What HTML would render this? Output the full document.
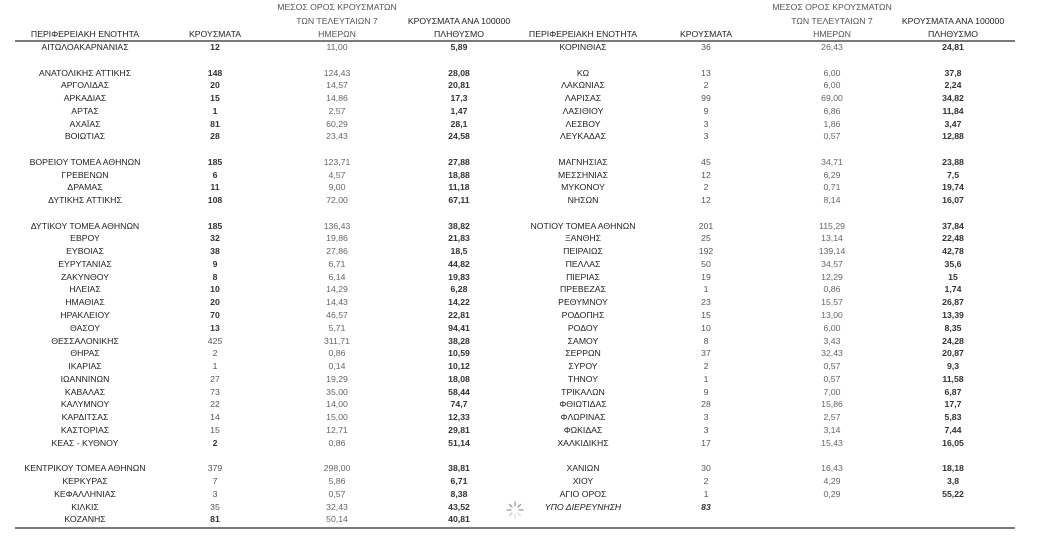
<!DOCTYPE html>
<html><head><meta charset="utf-8"><style>
html,body{margin:0;padding:0;background:#fff;}
body{width:1053px;height:541px;position:relative;overflow:hidden;font-family:"Liberation Sans","DejaVu Sans",sans-serif;font-size:8.7px;color:#222;}
.t{position:absolute;white-space:nowrap;text-align:center;line-height:10px;}
.r{position:absolute;left:0;width:1053px;height:10px;}
.r span{position:absolute;top:0;white-space:nowrap;text-align:center;line-height:10px;}
.a{left:10px;width:150px;}
.b{left:185px;width:60px;font-weight:bold;color:#333;}
.c{left:287px;width:100px;color:#666;}
.d{left:409px;width:100px;font-weight:bold;color:#333;}
.R .a{left:508px;}
.R .b{left:676px;}
.R .c{left:782px;}
.R .d{left:903px;}
.n{font-weight:normal!important;color:#555!important;}
.line{position:absolute;left:15px;width:1000px;height:2px;background:#7a7a7a;}
</style></head><body>
<div class="t" style="left:237px;width:200px;top:2px;color:#555">ΜΕΣΟΣ ΟΡΟΣ ΚΡΟΥΣΜΑΤΩΝ</div>
<div class="t" style="left:237px;width:200px;top:16px;color:#555">ΤΩΝ ΤΕΛΕΥΤΑΙΩΝ 7</div>
<div class="t" style="left:237px;width:200px;top:29px;color:#555">ΗΜΕΡΩΝ</div>
<div class="t" style="left:359px;width:200px;top:16px">ΚΡΟΥΣΜΑΤΑ ΑΝΑ 100000</div>
<div class="t" style="left:359px;width:200px;top:29px">ΠΛΗΘΥΣΜΟ</div>
<div class="t" style="left:0px;width:170px;top:29px">ΠΕΡΙΦΕΡΕΙΑΚΗ ΕΝΟΤΗΤΑ</div>
<div class="t" style="left:175px;width:80px;top:29px">ΚΡΟΥΣΜΑΤΑ</div>
<div class="t" style="left:732px;width:200px;top:2px;color:#555">ΜΕΣΟΣ ΟΡΟΣ ΚΡΟΥΣΜΑΤΩΝ</div>
<div class="t" style="left:732px;width:200px;top:16px;color:#555">ΤΩΝ ΤΕΛΕΥΤΑΙΩΝ 7</div>
<div class="t" style="left:732px;width:200px;top:29px;color:#555">ΗΜΕΡΩΝ</div>
<div class="t" style="left:853px;width:200px;top:16px">ΚΡΟΥΣΜΑΤΑ ΑΝΑ 100000</div>
<div class="t" style="left:853px;width:200px;top:29px">ΠΛΗΘΥΣΜΟ</div>
<div class="t" style="left:498px;width:170px;top:29px">ΠΕΡΙΦΕΡΕΙΑΚΗ ΕΝΟΤΗΤΑ</div>
<div class="t" style="left:666px;width:80px;top:29px">ΚΡΟΥΣΜΑΤΑ</div>
<div class="line" style="top:40px"></div>
<div class="line" style="top:527px"></div>

<div class="r" style="top:42px"><span class="a">ΑΙΤΩΛΟΑΚΑΡΝΑΝΙΑΣ</span><span class="b">12</span><span class="c">11,00</span><span class="d">5,89</span></div>
<div class="r" style="top:68px"><span class="a">ΑΝΑΤΟΛΙΚΗΣ ΑΤΤΙΚΗΣ</span><span class="b">148</span><span class="c">124,43</span><span class="d">28,08</span></div>
<div class="r" style="top:80px"><span class="a">ΑΡΓΟΛΙΔΑΣ</span><span class="b">20</span><span class="c">14,57</span><span class="d">20,81</span></div>
<div class="r" style="top:93px"><span class="a">ΑΡΚΑΔΙΑΣ</span><span class="b">15</span><span class="c">14,86</span><span class="d">17,3</span></div>
<div class="r" style="top:106px"><span class="a">ΑΡΤΑΣ</span><span class="b">1</span><span class="c">2,57</span><span class="d">1,47</span></div>
<div class="r" style="top:119px"><span class="a">ΑΧΑΪΑΣ</span><span class="b">81</span><span class="c">60,29</span><span class="d">28,1</span></div>
<div class="r" style="top:131px"><span class="a">ΒΟΙΩΤΙΑΣ</span><span class="b">28</span><span class="c">23,43</span><span class="d">24,58</span></div>
<div class="r" style="top:157px"><span class="a">ΒΟΡΕΙΟΥ ΤΟΜΕΑ ΑΘΗΝΩΝ</span><span class="b">185</span><span class="c">123,71</span><span class="d">27,88</span></div>
<div class="r" style="top:170px"><span class="a">ΓΡΕΒΕΝΩΝ</span><span class="b">6</span><span class="c">4,57</span><span class="d">18,88</span></div>
<div class="r" style="top:182px"><span class="a">ΔΡΑΜΑΣ</span><span class="b">11</span><span class="c">9,00</span><span class="d">11,18</span></div>
<div class="r" style="top:195px"><span class="a">ΔΥΤΙΚΗΣ ΑΤΤΙΚΗΣ</span><span class="b">108</span><span class="c">72,00</span><span class="d">67,11</span></div>
<div class="r" style="top:221px"><span class="a">ΔΥΤΙΚΟΥ ΤΟΜΕΑ ΑΘΗΝΩΝ</span><span class="b">185</span><span class="c">136,43</span><span class="d">38,82</span></div>
<div class="r" style="top:233px"><span class="a">ΕΒΡΟΥ</span><span class="b">32</span><span class="c">19,86</span><span class="d">21,83</span></div>
<div class="r" style="top:246px"><span class="a">ΕΥΒΟΙΑΣ</span><span class="b">38</span><span class="c">27,86</span><span class="d">18,5</span></div>
<div class="r" style="top:259px"><span class="a">ΕΥΡΥΤΑΝΙΑΣ</span><span class="b">9</span><span class="c">6,71</span><span class="d">44,82</span></div>
<div class="r" style="top:272px"><span class="a">ΖΑΚΥΝΘΟΥ</span><span class="b">8</span><span class="c">6,14</span><span class="d">19,83</span></div>
<div class="r" style="top:284px"><span class="a">ΗΛΕΙΑΣ</span><span class="b">10</span><span class="c">14,29</span><span class="d">6,28</span></div>
<div class="r" style="top:297px"><span class="a">ΗΜΑΘΙΑΣ</span><span class="b">20</span><span class="c">14,43</span><span class="d">14,22</span></div>
<div class="r" style="top:310px"><span class="a">ΗΡΑΚΛΕΙΟΥ</span><span class="b">70</span><span class="c">46,57</span><span class="d">22,81</span></div>
<div class="r" style="top:323px"><span class="a">ΘΑΣΟΥ</span><span class="b">13</span><span class="c">5,71</span><span class="d">94,41</span></div>
<div class="r" style="top:336px"><span class="a">ΘΕΣΣΑΛΟΝΙΚΗΣ</span><span class="b n">425</span><span class="c">311,71</span><span class="d">38,28</span></div>
<div class="r" style="top:348px"><span class="a">ΘΗΡΑΣ</span><span class="b n">2</span><span class="c">0,86</span><span class="d">10,59</span></div>
<div class="r" style="top:361px"><span class="a">ΙΚΑΡΙΑΣ</span><span class="b n">1</span><span class="c">0,14</span><span class="d">10,12</span></div>
<div class="r" style="top:374px"><span class="a">ΙΩΑΝΝΙΝΩΝ</span><span class="b n">27</span><span class="c">19,29</span><span class="d">18,08</span></div>
<div class="r" style="top:387px"><span class="a">ΚΑΒΑΛΑΣ</span><span class="b n">73</span><span class="c">35,00</span><span class="d">58,44</span></div>
<div class="r" style="top:399px"><span class="a">ΚΑΛΥΜΝΟΥ</span><span class="b n">22</span><span class="c">14,00</span><span class="d">74,7</span></div>
<div class="r" style="top:412px"><span class="a">ΚΑΡΔΙΤΣΑΣ</span><span class="b n">14</span><span class="c">15,00</span><span class="d">12,33</span></div>
<div class="r" style="top:425px"><span class="a">ΚΑΣΤΟΡΙΑΣ</span><span class="b n">15</span><span class="c">12,71</span><span class="d">29,81</span></div>
<div class="r" style="top:438px"><span class="a">ΚΕΑΣ - ΚΥΘΝΟΥ</span><span class="b">2</span><span class="c">0,86</span><span class="d">51,14</span></div>
<div class="r" style="top:463px"><span class="a">ΚΕΝΤΡΙΚΟΥ ΤΟΜΕΑ ΑΘΗΝΩΝ</span><span class="b n">379</span><span class="c">298,00</span><span class="d">38,81</span></div>
<div class="r" style="top:476px"><span class="a">ΚΕΡΚΥΡΑΣ</span><span class="b n">7</span><span class="c">5,86</span><span class="d">6,71</span></div>
<div class="r" style="top:489px"><span class="a">ΚΕΦΑΛΛΗΝΙΑΣ</span><span class="b n">3</span><span class="c">0,57</span><span class="d">8,38</span></div>
<div class="r" style="top:502px"><span class="a">ΚΙΛΚΙΣ</span><span class="b n">35</span><span class="c">32,43</span><span class="d">43,52</span></div>
<div class="r" style="top:514px"><span class="a">ΚΟΖΑΝΗΣ</span><span class="b">81</span><span class="c">50,14</span><span class="d">40,81</span></div>

<div class="r R" style="top:42px"><span class="a">ΚΟΡΙΝΘΙΑΣ</span><span class="b n">36</span><span class="c">26,43</span><span class="d">24,81</span></div>
<div class="r R" style="top:68px"><span class="a">ΚΩ</span><span class="b n">13</span><span class="c">6,00</span><span class="d">37,8</span></div>
<div class="r R" style="top:80px"><span class="a">ΛΑΚΩΝΙΑΣ</span><span class="b n">2</span><span class="c">6,00</span><span class="d">2,24</span></div>
<div class="r R" style="top:93px"><span class="a">ΛΑΡΙΣΑΣ</span><span class="b n">99</span><span class="c">69,00</span><span class="d">34,82</span></div>
<div class="r R" style="top:106px"><span class="a">ΛΑΣΙΘΙΟΥ</span><span class="b n">9</span><span class="c">6,86</span><span class="d">11,84</span></div>
<div class="r R" style="top:119px"><span class="a">ΛΕΣΒΟΥ</span><span class="b n">3</span><span class="c">1,86</span><span class="d">3,47</span></div>
<div class="r R" style="top:131px"><span class="a">ΛΕΥΚΑΔΑΣ</span><span class="b n">3</span><span class="c">0,57</span><span class="d">12,88</span></div>
<div class="r R" style="top:157px"><span class="a">ΜΑΓΝΗΣΙΑΣ</span><span class="b n">45</span><span class="c">34,71</span><span class="d">23,88</span></div>
<div class="r R" style="top:170px"><span class="a">ΜΕΣΣΗΝΙΑΣ</span><span class="b n">12</span><span class="c">6,29</span><span class="d">7,5</span></div>
<div class="r R" style="top:182px"><span class="a">ΜΥΚΟΝΟΥ</span><span class="b n">2</span><span class="c">0,71</span><span class="d">19,74</span></div>
<div class="r R" style="top:195px"><span class="a">ΝΗΣΩΝ</span><span class="b n">12</span><span class="c">8,14</span><span class="d">16,07</span></div>
<div class="r R" style="top:221px"><span class="a">ΝΟΤΙΟΥ ΤΟΜΕΑ ΑΘΗΝΩΝ</span><span class="b n">201</span><span class="c">115,29</span><span class="d">37,84</span></div>
<div class="r R" style="top:233px"><span class="a">ΞΑΝΘΗΣ</span><span class="b n">25</span><span class="c">13,14</span><span class="d">22,48</span></div>
<div class="r R" style="top:246px"><span class="a">ΠΕΙΡΑΙΩΣ</span><span class="b n">192</span><span class="c">139,14</span><span class="d">42,78</span></div>
<div class="r R" style="top:259px"><span class="a">ΠΕΛΛΑΣ</span><span class="b n">50</span><span class="c">34,57</span><span class="d">35,6</span></div>
<div class="r R" style="top:272px"><span class="a">ΠΙΕΡΙΑΣ</span><span class="b n">19</span><span class="c">12,29</span><span class="d">15</span></div>
<div class="r R" style="top:284px"><span class="a">ΠΡΕΒΕΖΑΣ</span><span class="b n">1</span><span class="c">0,86</span><span class="d">1,74</span></div>
<div class="r R" style="top:297px"><span class="a">ΡΕΘΥΜΝΟΥ</span><span class="b n">23</span><span class="c">15,57</span><span class="d">26,87</span></div>
<div class="r R" style="top:310px"><span class="a">ΡΟΔΟΠΗΣ</span><span class="b n">15</span><span class="c">13,00</span><span class="d">13,39</span></div>
<div class="r R" style="top:323px"><span class="a">ΡΟΔΟΥ</span><span class="b n">10</span><span class="c">6,00</span><span class="d">8,35</span></div>
<div class="r R" style="top:336px"><span class="a">ΣΑΜΟΥ</span><span class="b n">8</span><span class="c">3,43</span><span class="d">24,28</span></div>
<div class="r R" style="top:348px"><span class="a">ΣΕΡΡΩΝ</span><span class="b n">37</span><span class="c">32,43</span><span class="d">20,87</span></div>
<div class="r R" style="top:361px"><span class="a">ΣΥΡΟΥ</span><span class="b n">2</span><span class="c">0,57</span><span class="d">9,3</span></div>
<div class="r R" style="top:374px"><span class="a">ΤΗΝΟΥ</span><span class="b n">1</span><span class="c">0,57</span><span class="d">11,58</span></div>
<div class="r R" style="top:387px"><span class="a">ΤΡΙΚΑΛΩΝ</span><span class="b n">9</span><span class="c">7,00</span><span class="d">6,87</span></div>
<div class="r R" style="top:399px"><span class="a">ΦΘΙΩΤΙΔΑΣ</span><span class="b n">28</span><span class="c">15,86</span><span class="d">17,7</span></div>
<div class="r R" style="top:412px"><span class="a">ΦΛΩΡΙΝΑΣ</span><span class="b n">3</span><span class="c">2,57</span><span class="d">5,83</span></div>
<div class="r R" style="top:425px"><span class="a">ΦΩΚΙΔΑΣ</span><span class="b n">3</span><span class="c">3,14</span><span class="d">7,44</span></div>
<div class="r R" style="top:438px"><span class="a">ΧΑΛΚΙΔΙΚΗΣ</span><span class="b n">17</span><span class="c">15,43</span><span class="d">16,05</span></div>
<div class="r R" style="top:463px"><span class="a">ΧΑΝΙΩΝ</span><span class="b n">30</span><span class="c">16,43</span><span class="d">18,18</span></div>
<div class="r R" style="top:476px"><span class="a">ΧΙΟΥ</span><span class="b n">2</span><span class="c">4,29</span><span class="d">3,8</span></div>
<div class="r R" style="top:489px"><span class="a">ΑΓΙΟ ΟΡΟΣ</span><span class="b n">1</span><span class="c">0,29</span><span class="d">55,22</span></div>
<div class="r R" style="top:502px"><span class="a" style="font-style:italic">ΥΠΟ ΔΙΕΡΕΥΝΗΣΗ</span><span class="b" style="font-style:italic">83</span></div>

<svg style="position:absolute;left:505px;top:500px" width="20" height="20" viewBox="0 0 20 20">
<g stroke="#999" stroke-width="1.3" stroke-linecap="round">
<line x1="10" y1="2" x2="10" y2="6"/><line x1="15.5" y1="4.5" x2="13" y2="7"/><line x1="18" y1="10" x2="14" y2="10"/>
<line x1="4.5" y1="4.5" x2="7" y2="7"/><line x1="2" y1="10" x2="6" y2="10"/><line x1="4.5" y1="15.5" x2="7" y2="13" stroke="#ccc"/>
<line x1="10" y1="18" x2="10" y2="14" stroke="#ddd"/><line x1="15.5" y1="15.5" x2="13" y2="13" stroke="#ddd"/>
</g></svg>
</body></html>
